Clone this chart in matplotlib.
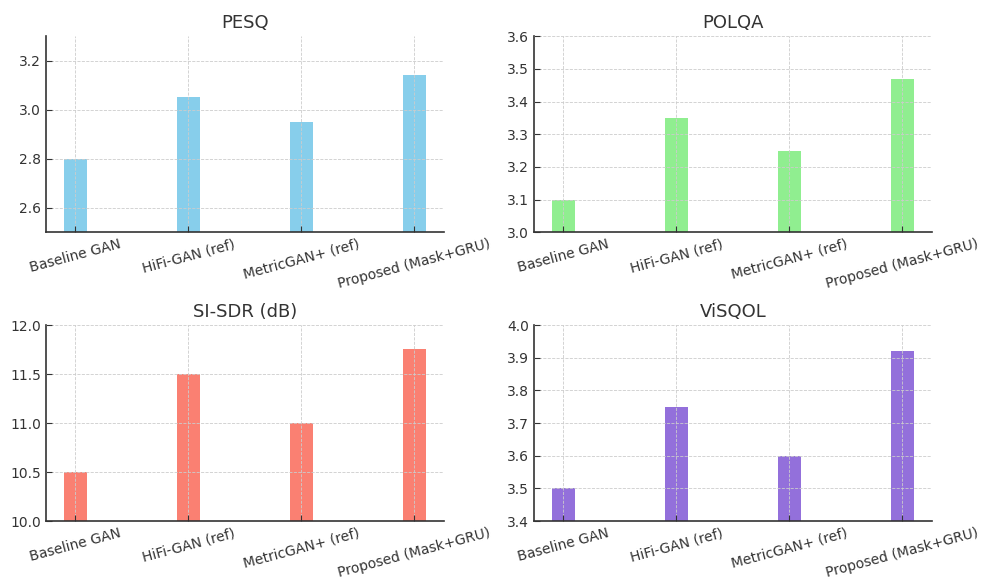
import matplotlib
matplotlib.use('Agg')
import matplotlib.pyplot as plt

models = ['Baseline GAN', 'HiFi-GAN (ref)', 'MetricGAN+ (ref)', 'Proposed (Mask+GRU)']

pesq = [2.80, 3.05, 2.95, 3.14]
polqa = [3.10, 3.35, 3.25, 3.47]
si_sdr = [10.5, 11.5, 11.0, 11.76]
visqol = [3.50, 3.75, 3.60, 3.92]

panels = [
    ('PESQ', pesq, 'skyblue', (2.5, 3.3)),
    ('POLQA', polqa, 'lightgreen', (3.0, 3.6)),
    ('SI-SDR (dB)', si_sdr, 'salmon', (10.0, 12.0)),
    ('ViSQOL', visqol, 'mediumpurple', (3.4, 4.0)),
]

# axes boxes in figure fractions: left, bottom, width, height
boxes = [
    (0.0468, 0.599, 0.405, 0.3385),
    (0.5438, 0.599, 0.405, 0.3385),
    (0.0468, 0.100, 0.405, 0.3385),
    (0.5438, 0.100, 0.405, 0.3385),
]

fig = plt.figure(figsize=(9.82, 5.79), dpi=100)

for (title, values, color, ylim), box in zip(panels, boxes):
    ax = fig.add_axes(box)
    x = range(len(models))
    ax.bar(x, values, width=0.2, color=color)
    ax.set_ylim(*ylim)
    ax.set_xticks(list(x))
    ax.set_xticklabels(models, rotation=15, ha='center', fontsize=10, color='#333333')
    ax.tick_params(axis='y', labelsize=10, labelcolor='#333333')
    ax.tick_params(direction='in', color='#333333', length=4)
    ax.set_title(title, fontsize=13, color='#333333', pad=6)
    ax.grid(True, linestyle='--', color='#cccccc', linewidth=0.6)
    ax.set_axisbelow(False)
    for side in ('top', 'right'):
        ax.spines[side].set_visible(False)
    for side in ('left', 'bottom'):
        ax.spines[side].set_color('#333333')
        ax.spines[side].set_linewidth(1.2)

fig.savefig('out.png', dpi=100)
